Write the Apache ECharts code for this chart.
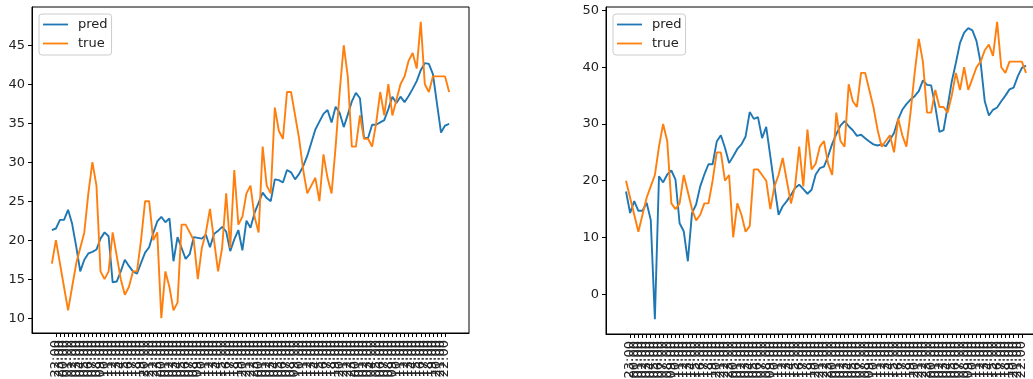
<!DOCTYPE html>
<html>
<head>
<meta charset="utf-8">
<script src="https://cdn.jsdelivr.net/npm/echarts@6/dist/echarts.min.js"></script>
<style>
html,body{margin:0;padding:0;background:#fff;}
#chart{width:1033px;height:379px;}
</style>
</head>
<body>
<div id="chart"></div>
<script>
// ---- data ----
const leftPred = [21.3,21.5,22.6,22.6,23.9,22.1,19.2,16.0,17.5,18.3,
  18.5,18.8,20.2,21.0,20.5,14.6,14.7,16.0,17.5,16.7,
  16.0,15.7,17.1,18.4,19.1,20.9,22.4,23.0,22.3,22.8,
  17.3,20.4,19.0,17.6,18.2,20.4,20.3,20.2,20.7,19.1,
  20.8,21.2,21.7,21.1,18.6,20.1,21.3,18.7,22.5,21.6,
  23.5,24.8,26.1,25.4,25.0,27.8,27.7,27.4,29.0,28.7,
  27.8,28.5,29.5,30.8,32.5,34.2,35.2,36.2,36.7,35.1,
  37.1,36.3,34.5,36.1,37.8,38.9,38.2,33.1,33.1,34.8,
  34.8,35.1,35.4,36.8,38.4,37.6,38.4,37.7,38.5,39.4,
  40.4,41.8,42.7,42.6,41.3,37.5,33.8,34.7,34.9];
const trueVals = [17,20,17,14,11,14,17,19,21,26,
  30,27,16,15,16,21,18,15,13,14,
  16,16,20,25,25,20,21,10,16,14,
  11,12,22,22,21,20,15,19,21,24,
  20,16,19,26,19,29,22,23,26,27,
  23,21,32,27,26,37,34,33,39,39,
  36,33,29,26,27,28,25,31,28,26,
  32,39,45,41,32,32,36,33,33,32,
  35,39,36,40,36,38,40,41,43,44,
  42,48,40,39,41,41,41,41,39];
const rightPred = [18.1,14.3,16.4,14.7,14.7,16.1,13.1,-4.4,20.8,19.7,
  21.1,21.8,20.2,12.5,11.1,5.8,14.3,15.8,19.0,21.1,
  22.9,22.9,26.9,28.0,25.8,23.1,24.3,25.6,26.4,27.8,
  32.1,30.9,31.2,27.5,29.5,24.3,19.0,14.0,15.5,16.4,
  17.5,18.7,19.3,18.5,17.7,18.4,21.1,22.2,22.5,24.3,
  26.5,28.2,29.7,30.5,29.6,28.9,27.9,28.1,27.5,26.9,
  26.4,26.2,26.4,26.1,27.2,28.4,30.8,32.5,33.5,34.3,
  34.9,35.8,37.7,36.9,36.8,33.1,28.6,28.9,33.1,37.5,
  40.8,44.3,46.1,46.9,46.5,44.6,40.8,34.0,31.5,32.5,
  32.9,34.0,35.0,36.1,36.4,38.4,39.9,40.3];
const rightTrue = trueVals.slice(1);
const leftYTicks = [10,15,20,25,30,35,40,45];
const rightYTicks = [0,10,20,30,40,50];
const startHour = 21; // first time stamp 21:00
const leftLabels = [];
for (let i = 0; i < leftPred.length; i++) {
  const t = new Date(Date.UTC(2021,0,1,startHour + i));
  const p = n => String(n).padStart(2,'0');
  leftLabels.push(t.getUTCFullYear()+'-'+p(t.getUTCMonth()+1)+'-'+p(t.getUTCDate())+' '+p(t.getUTCHours())+':00');
}
const rightLabels = leftLabels.slice(1);

// ---- chart ----
const FONT = 'DejaVu Sans';
const TXT = '#222';
const BLUE = '#1f77b4', ORANGE = '#ff7f0e';
const idx = n => Array.from({length:n},(_,i)=>i);
const pairs = arr => arr.map((v,i)=>[i,v]);

function xAxisCfg(grid, n, labels){
  const m = 0.05*(n-1);
  return {
    type:'value', gridIndex:grid, min:-m, max:(n-1)+m,
    axisLine:{show:true, onZero:false, lineStyle:{color:'#000', width:1}},
    splitLine:{show:false},
    axisTick:{show:true, customValues:idx(n), length:4, lineStyle:{color:'#000', width:1}},
    axisLabel:{customValues:idx(n), rotate:90, margin:7, fontSize:13, fontFamily:FONT, color:TXT,
      formatter: v => labels[Math.round(v)] ?? ''}
  };
}
function yAxisCfg(grid, min, max, ticks){
  return {
    type:'value', gridIndex:grid, min:min, max:max,
    axisLine:{show:true, onZero:false, lineStyle:{color:'#000', width:1}},
    splitLine:{show:false},
    axisTick:{show:true, customValues:ticks, length:4, lineStyle:{color:'#000', width:1}},
    axisLabel:{customValues:ticks, margin:7, fontSize:13, fontFamily:FONT, color:TXT}
  };
}
function legendCfg(left){
  return {
    left:left, top:14, orient:'vertical', data:['pred','true'], icon:'rect',
    itemWidth:25, itemHeight:1.8, itemGap:0, padding:[1,4,2,4],
    backgroundColor:'rgba(255,255,255,0.8)', borderColor:'#cccccc', borderWidth:1, borderRadius:3,
    selectedMode:false,
    textStyle:{fontFamily:FONT, fontSize:13, color:TXT, lineHeight:19, padding:[0,0,0,5]}
  };
}
function line(name, data, color, g){
  return {type:'line', name:name, data:pairs(data), xAxisIndex:g, yAxisIndex:g,
    symbol:'none', lineStyle:{color:color, width:1.9}, itemStyle:{color:color}, z:2};
}

const lMinY = 10 - 0.05*38, lMaxY = 48 + 0.05*38;
const rRange = 48 - (-4.4);
const rMinY = -4.4 - 0.05*rRange, rMaxY = 48 + 0.05*rRange;

const chart = echarts.init(document.getElementById('chart'), null, {renderer:'canvas'});
chart.setOption({
  animation:false,
  backgroundColor:'#fff',
  textStyle:{fontFamily:FONT},
  grid:[
    {left:32, top:7, width:437, height:326, show:true, borderColor:'#000', borderWidth:1, backgroundColor:'transparent', containLabel:false, outerBoundsMode:'none'},
    {left:606, top:7, width:440, height:327, show:true, borderColor:'#000', borderWidth:1, backgroundColor:'transparent', containLabel:false, outerBoundsMode:'none'}
  ],
  xAxis:[ xAxisCfg(0, leftPred.length, leftLabels), xAxisCfg(1, rightPred.length, rightLabels) ],
  yAxis:[ yAxisCfg(0, lMinY, lMaxY, leftYTicks), yAxisCfg(1, rMinY, rMaxY, rightYTicks) ],
  legend:[ legendCfg(39), legendCfg(613) ],
  series:[
    line('pred', leftPred, BLUE, 0),
    line('true', trueVals, ORANGE, 0),
    line('pred', rightPred, BLUE, 1),
    line('true', rightTrue, ORANGE, 1)
  ]
});
</script>
</body>
</html>
